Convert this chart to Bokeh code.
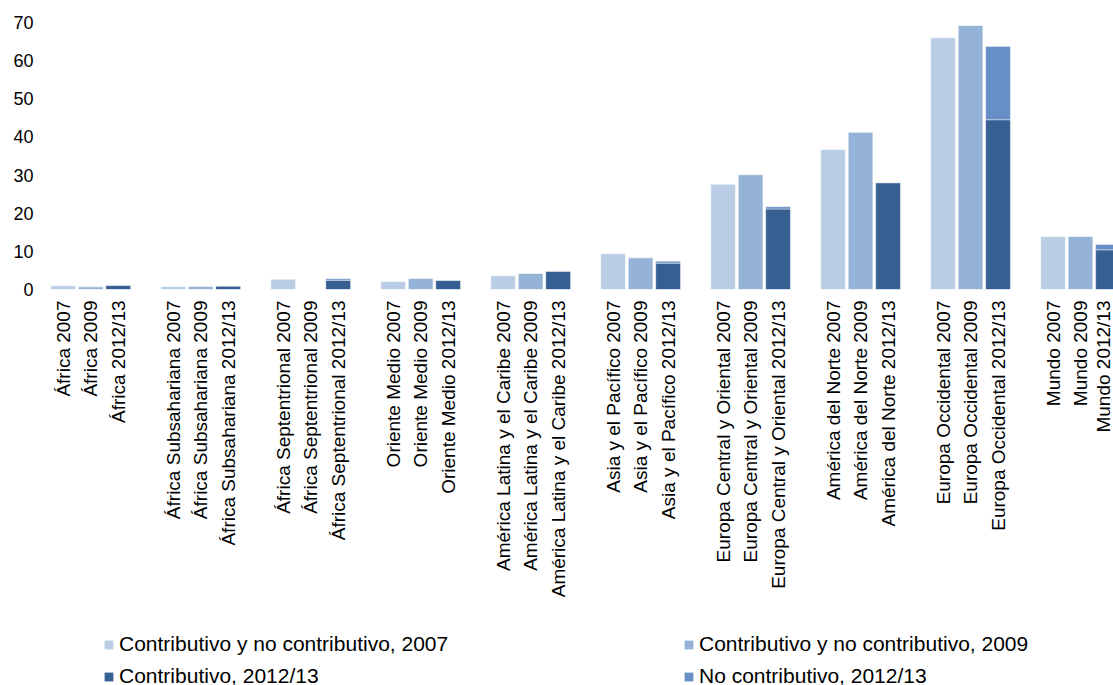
import math
from bokeh.plotting import figure
from bokeh.layouts import column
from bokeh.models import (ColumnDataSource, Range1d, FixedTicker, Legend, LegendItem)
from bokeh.embed import file_html
from bokeh.resources import INLINE

# ---- data ----
regions = ["África", "África Subsahariana", "África Septentrional", "Oriente Medio",
           "América Latina y el Caribe", "Asia y el Pacífico",
           "Europa Central y Oriental", "América del Norte",
           "Europa Occidental", "Mundo"]
period_labels = ["2007", "2009", "2012/13"]
total_2007 = [1.0, 0.8, 2.7, 2.1, 3.6, 9.4, 27.6, 36.7, 66.0, 13.9]
total_2009 = [0.7, 0.8, float("nan"), 2.9, 4.2, 8.3, 30.1, 41.2, 69.2, 13.9]
contrib_2012 = [1.1, 0.9, 2.4, 2.4, 4.8, 6.9, 21.1, 28.0, 44.5, 10.4]
noncontrib_2012 = [0.0, 0.0, 0.4, 0.0, 0.0, 0.5, 0.6, 0.0, 19.2, 1.4]
y_ticks = [0, 10, 20, 30, 40, 50, 60, 70]
legend_labels = ["Contributivo y no contributivo, 2007",
                 "Contributivo y no contributivo, 2009",
                 "Contributivo, 2012/13",
                 "No contributivo, 2012/13"]

C2007 = "#B9CDE5"
C2009 = "#95B3D7"
CCON = "#376092"
CNC = "#6690C5"
FONT = "Liberation Sans"

# positions: each region takes 3 slots plus one empty slot
x07 = [4 * g + 0 for g in range(len(regions))]
x09 = [4 * g + 1 for g in range(len(regions))]
x12 = [4 * g + 2 for g in range(len(regions))]
stack_top = [c + n for c, n in zip(contrib_2012, noncontrib_2012)]

src = ColumnDataSource(dict(x07=x07, x09=x09, x12=x12,
                            t07=total_2007, t09=total_2009,
                            con=contrib_2012, top=stack_top))

p = figure(width=1113, frame_height=267, output_backend="svg", toolbar_location=None,
           x_range=Range1d(-0.5, 38.2), y_range=Range1d(0, 70),
           min_border_left=49, min_border_right=0, min_border_top=22,
           min_border_bottom=311)
p.outline_line_color = None
p.background_fill_color = "white"
p.border_fill_color = "white"
p.xgrid.visible = False
p.ygrid.visible = False

W = 0.9
p.vbar(x="x07", top="t07", width=W, source=src, fill_color=C2007,
       line_color="white", line_alpha=0.6, line_width=1)
p.vbar(x="x09", top="t09", width=W, source=src, fill_color=C2009,
       line_color="white", line_alpha=0.6, line_width=1)
p.vbar(x="x12", top="con", width=W, source=src, fill_color=CCON,
       line_color="white", line_alpha=0.4, line_width=1)
p.vbar(x="x12", bottom="con", top="top", width=W, source=src, fill_color=CNC,
       line_color="white", line_alpha=0.4, line_width=1)

# axes
tick_pos = []
overrides = {}
for g, reg in enumerate(regions):
    for k, per in enumerate(period_labels):
        pos = 4 * g + k
        tick_pos.append(pos)
        overrides[pos] = f"{reg} {per}"
p.xaxis.ticker = FixedTicker(ticks=tick_pos)
p.xaxis.major_label_overrides = overrides
p.xaxis.major_label_orientation = math.pi / 2
p.xaxis.major_label_text_font = FONT
p.xaxis.major_label_text_font_size = "19px"
p.xaxis.major_label_text_color = "black"
p.xaxis.major_label_standoff = 11
p.xaxis.major_tick_out = 0
p.xaxis.major_tick_in = 0
p.xaxis.axis_line_color = None
p.xaxis.major_tick_line_color = None
p.xaxis.minor_tick_line_color = None

p.yaxis.ticker = FixedTicker(ticks=y_ticks)
p.yaxis.major_label_text_font = FONT
p.yaxis.major_label_text_font_size = "18px"
p.yaxis.major_label_text_color = "black"
p.yaxis.major_label_standoff = 16
p.yaxis.major_tick_out = 0
p.yaxis.major_tick_in = 0
p.yaxis.axis_line_color = None
p.yaxis.major_tick_line_color = None
p.yaxis.minor_tick_line_color = None

# ---- legend strip below the chart ----
lf = figure(width=1113, height=88, output_backend="svg", toolbar_location=None,
            x_range=Range1d(0, 1), y_range=Range1d(0, 1),
            x_axis_location=None, y_axis_location=None,
            min_border_left=0, min_border_right=0, min_border_top=0, min_border_bottom=0)
lf.outline_line_color = None
lf.xgrid.visible = False
lf.ygrid.visible = False
swatch_colors = [C2007, C2009, CCON, CNC]
# legend-key renderers placed outside the visible range (only their swatches show)
swatches = [lf.vbar(x=[5], top=[1], width=0.1, fill_color=c, line_color=None)
            for c in swatch_colors]

legend = Legend(items=[LegendItem(label=lab, renderers=[r])
                       for lab, r in zip(legend_labels, swatches)],
                orientation="horizontal", ncols=2,
                location=(54, 0), padding=0, margin=0, spacing=8,
                glyph_width=11, glyph_height=11, label_standoff=5,
                label_width=556, label_height=24,
                label_text_font=FONT, label_text_font_size="21px",
                label_text_color="black",
                border_line_color=None, background_fill_alpha=0)
lf.add_layout(legend, "center")

layout = column(p, lf, spacing=0)
open("out.html", "w").write(file_html(layout, INLINE))
